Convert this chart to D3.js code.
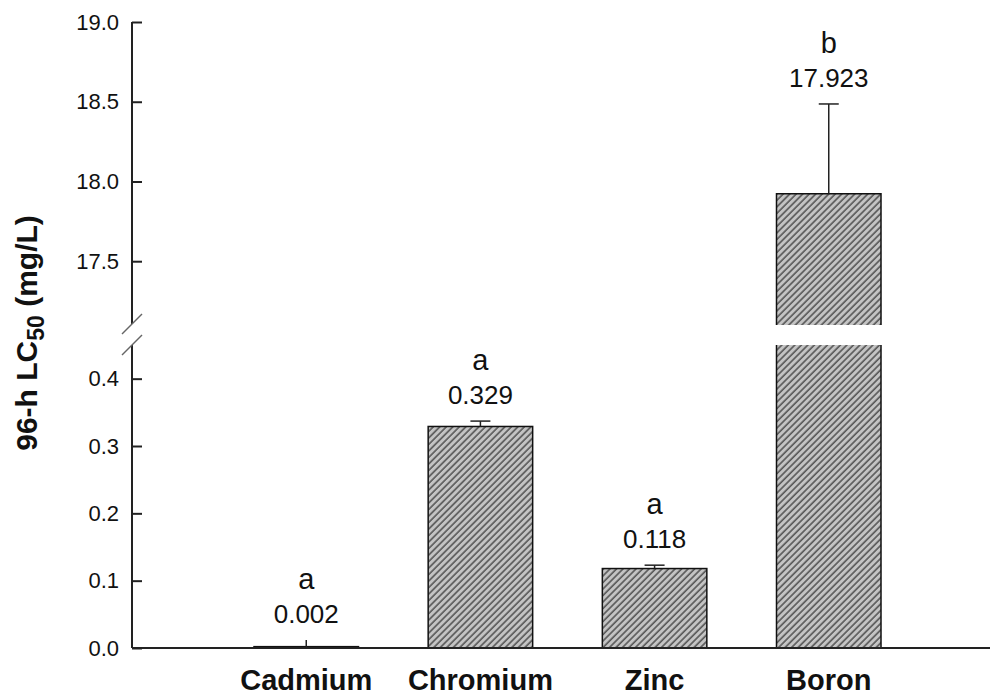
<!DOCTYPE html>
<html lang="en">
<head>
    <meta charset="UTF-8">
    <title>96-h LC50</title>
    <script src="https://d3js.org/d3.v7.min.js"></script>
    <style>
        body { margin: 0; background: #fff; }
        svg { display: block; font-family: "Liberation Sans", Arial, sans-serif; }
        .axis path, .axis line { stroke: #222; stroke-width: 2px; }
        .yaxis text { font-size: 22px; fill: #111; }
        .xaxis text { font-size: 29px; font-weight: bold; fill: #111; }
    </style>
</head>
<body>
    <svg id="svg" width="993" height="695"></svg>
    <script>
        // values
        const categories = ["Cadmium", "Chromium", "Zinc", "Boron"];
        const means = [0.002, 0.329, 0.118, 17.923];
        const errors = [0.010, 0.008, 0.005, 0.563];
        const letters = ["a", "a", "a", "b"];
        const showCap = [false, true, true, true];
        const lowTicks = [0.0, 0.1, 0.2, 0.3, 0.4];
        const highTicks = [17.5, 18.0, 18.5, 19.0];

        const svg = d3.select("#svg");
        const axisX = 132;

        // broken y axis: two linear scales
        const yLow = d3.scaleLinear().domain([0, 0.45]).range([648, 345]);
        const yHigh = d3.scaleLinear().domain([17.1, 19.0]).range([325, 22]);
        const yOf = v => v >= 17.1 ? yHigh(v) : yLow(v);

        const x = d3.scaleBand()
            .domain(categories)
            .range([254, 881])
            .paddingInner(0.4)
            .paddingOuter(0);

        // hatch pattern
        const pat = svg.append("defs").append("pattern")
            .attr("id", "hatch")
            .attr("patternUnits", "userSpaceOnUse")
            .attr("width", 4.6)
            .attr("height", 4.6)
            .attr("patternTransform", "rotate(45)");
        pat.append("rect").attr("width", 4.6).attr("height", 4.6).attr("fill", "#c4c4c4");
        pat.append("line")
            .attr("x1", 1).attr("y1", 0).attr("x2", 1).attr("y2", 4.6)
            .attr("stroke", "#3c3c3c").attr("stroke-width", 1.3);

        // bars (lower segment and, if needed, upper segment)
        const bars = svg.append("g");
        categories.forEach((c, i) => {
            const v = means[i];
            const top = Math.min(v, 0.45);
            bars.append("rect")
                .attr("x", x(c))
                .attr("y", yLow(top))
                .attr("width", x.bandwidth())
                .attr("height", Math.max(yLow(0) - yLow(top), 1))
                .attr("fill", "url(#hatch)")
                .attr("stroke", v > 0.45 ? "none" : "#111")
                .attr("stroke-width", 1.5);
            if (v > 0.45) {
                // side edges only for the lower piece of a broken bar
                bars.append("path")
                    .attr("d", `M${x(c)},${yLow(0.45)}V${yLow(0)}M${x(c) + x.bandwidth()},${yLow(0.45)}V${yLow(0)}`)
                    .attr("stroke", "#111").attr("stroke-width", 1.5).attr("fill", "none");
                bars.append("path")
                    .attr("d", `M${x(c)},${yHigh(17.1)}V${yHigh(v)}H${x(c) + x.bandwidth()}V${yHigh(17.1)}`)
                    .attr("stroke", "#111").attr("stroke-width", 1.5).attr("fill", "url(#hatch)");
            }
        });

        // error bars
        const err = svg.append("g").attr("stroke", "#222").attr("stroke-width", 1.5);
        categories.forEach((c, i) => {
            const cx = x(c) + x.bandwidth() / 2;
            const y1 = yOf(means[i]);
            const y2 = yOf(means[i] + errors[i]);
            err.append("line").attr("x1", cx).attr("x2", cx).attr("y1", y1).attr("y2", y2);
            if (showCap[i]) {
                err.append("line").attr("x1", cx - 10).attr("x2", cx + 10).attr("y1", y2).attr("y2", y2);
            }
        });

        // value labels and significance letters
        const lab = svg.append("g").attr("text-anchor", "middle").attr("fill", "#111");
        categories.forEach((c, i) => {
            const cx = x(c) + x.bandwidth() / 2;
            const yTop = yOf(means[i] + errors[i]);
            lab.append("text")
                .attr("x", cx).attr("y", yTop - 17)
                .attr("font-size", 26)
                .text(d3.format(".3f")(means[i]));
            lab.append("text")
                .attr("x", cx).attr("y", yTop - 51)
                .attr("font-size", 29)
                .text(letters[i]);
        });

        // y axes
        const fmt = d3.format(".1f");
        const gLow = svg.append("g").attr("class", "axis yaxis")
            .attr("transform", `translate(${axisX},0)`)
            .call(d3.axisLeft(yLow).tickValues(lowTicks).tickFormat(fmt)
                .tickSizeInner(-10).tickSizeOuter(0).tickPadding(13));
        const gHigh = svg.append("g").attr("class", "axis yaxis")
            .attr("transform", `translate(${axisX},0)`)
            .call(d3.axisLeft(yHigh).tickValues(highTicks).tickFormat(fmt)
                .tickSizeInner(-10).tickSizeOuter(0).tickPadding(13));
        gLow.select(".domain").attr("d", `M0,${yLow(0)}V${yLow(0.45)}`);
        gHigh.select(".domain").attr("d", `M0,${yHigh(17.1) - 1}V${yHigh(19.0)}`);

        // break marks
        svg.append("g").attr("stroke", "#666").attr("stroke-width", 1.5)
            .selectAll("line").data([yHigh(17.1) - 1, yLow(0.45)]).join("line")
            .attr("x1", axisX - 10).attr("x2", axisX + 10)
            .attr("y1", d => d + 10).attr("y2", d => d - 10);

        // x axis
        const gx = svg.append("g").attr("class", "axis xaxis")
            .attr("transform", `translate(0,${yLow(0)})`)
            .call(d3.axisBottom(x).tickSize(0).tickPadding(21));
        gx.select(".domain").attr("d", `M${axisX},0H990`);
        gx.selectAll("text").attr("dy", "0.71em");

        // y title with subscript
        const title = svg.append("text")
            .attr("transform", "translate(37,333) rotate(-90)")
            .attr("text-anchor", "middle")
            .attr("font-size", 30)
            .attr("font-weight", "bold")
            .attr("fill", "#111");
        title.append("tspan").text("96-h LC");
        title.append("tspan").attr("font-size", 23).attr("dy", 7).text("50");
        title.append("tspan").attr("dy", -7).text(" (mg/L)");
    </script>
</body>
</html>
